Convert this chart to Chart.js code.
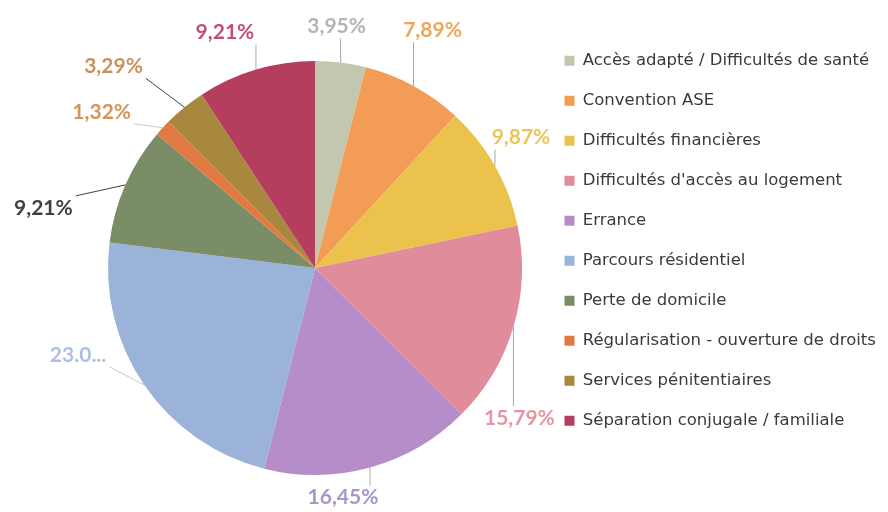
<!DOCTYPE html>
<html lang="fr">
<head>
<meta charset="utf-8">
<script src="https://cdn.jsdelivr.net/npm/chart.js@4.4.1/dist/chart.umd.min.js"></script>
<style>
    html, body { margin: 0; padding: 0; background: #fff; }
</style>
</head>
<body>
<canvas id="pieChart" width="888" height="512"></canvas>
<script>
const categories = [
    "Accès adapté / Difficultés de santé",
    "Convention ASE",
    "Difficultés financières",
    "Difficultés d'accès au logement",
    "Errance",
    "Parcours résidentiel",
    "Perte de domicile",
    "Régularisation - ouverture de droits",
    "Services pénitentiaires",
    "Séparation conjugale / familiale"
];
const percents = [3.95, 7.89, 9.87, 15.79, 16.45, 23.03, 9.21, 1.32, 3.29, 9.21];
// labels Excel could not fit are cut short
const truncated = [5];

const sliceColors = ['#c3c7b0', '#f29c55', '#ebc24c', '#e18c9a', '#b58ec9', '#9cb3d9', '#7b8d66', '#e07a42', '#a8873f', '#b53d5e'];
const labelColors = ['#b4b4b4', '#f0a65a', '#e9c65a', '#e894a2', '#a996c8', '#aabfe2', '#404040', '#d4955a', '#c8925a', '#c64f6f'];
const leaderColors = ['#a8a8a8', '#a8a8a8', '#a8a8a8', '#a8a8a8', '#a8a8a8', '#c8c8c8', '#404040', '#c8c8c8', '#404040', '#a8a8a8'];
// where each callout sits, relative to the slice edge
const labelOffsets = [[-4, -36], [19, -56], [26, -28], [6, 91], [-27, 30], [-66, -30], [-82, 23], [-61, -16], [-71, -41], [-31, -37]];

const LEGEND_WIDTH = 347;

function valueText(i) {
    const v = percents[i];
    if (truncated.includes(i)) return v.toFixed(1) + '...';
    return v.toFixed(2).replace('.', ',') + '%';
}

const legendWidthPlugin = {
    id: 'legendWidth',
    beforeLayout(chart) {
        const legend = chart.legend;
        if (legend && !legend._fixedFit) {
            const fit = legend.fit;
            legend.fit = function () {
                fit.call(this);
                this.width = LEGEND_WIDTH;
            };
            legend._fixedFit = true;
        }
    }
};

const calloutPlugin = {
    id: 'callouts',
    afterDatasetsDraw(chart) {
        const ctx = chart.ctx;
        const arcs = chart.getDatasetMeta(0).data;
        ctx.save();
        ctx.font = 'bold 21px Lato';
        ctx.textAlign = 'center';
        ctx.textBaseline = 'middle';
        arcs.forEach((arc, i) => {
            const mid = (arc.startAngle + arc.endAngle) / 2;
            const ex = arc.x + Math.cos(mid) * arc.outerRadius;
            const ey = arc.y + Math.sin(mid) * arc.outerRadius;
            const lx = ex + labelOffsets[i][0];
            const ly = ey + labelOffsets[i][1];
            const text = valueText(i);
            const hw = ctx.measureText(text).width / 2 + 3;
            const hh = 12;
            const nx = Math.min(Math.max(ex, lx - hw), lx + hw);
            const ny = Math.min(Math.max(ey, ly - hh), ly + hh);
            ctx.strokeStyle = leaderColors[i];
            ctx.lineWidth = 1;
            ctx.beginPath();
            ctx.moveTo(ex, ey);
            ctx.lineTo(nx, ny);
            ctx.stroke();
            ctx.fillStyle = labelColors[i];
            ctx.fillText(text, lx, ly);
        });
        ctx.restore();
    }
};

const ctx = document.getElementById('pieChart').getContext('2d');
new Chart(ctx, {
    type: 'pie',
    data: {
        labels: categories,
        datasets: [{
            data: percents,
            backgroundColor: sliceColors,
            borderWidth: 0,
            radius: 207
        }]
    },
    options: {
        responsive: false,
        animation: false,
        layout: {
            padding: { left: 89, top: 29, bottom: 5, right: 0 }
        },
        plugins: {
            legend: {
                position: 'right',
                align: 'start',
                labels: {
                    boxWidth: 10,
                    boxHeight: 10,
                    padding: 23.5,
                    color: '#3a3a3a',
                    font: { family: 'DejaVu Sans', size: 16.5 }
                }
            },
            tooltip: { enabled: false }
        }
    },
    plugins: [legendWidthPlugin, calloutPlugin]
});
</script>
</body>
</html>
